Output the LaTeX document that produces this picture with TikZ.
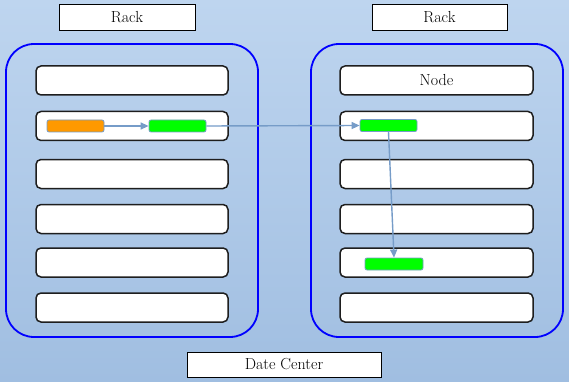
\documentclass[tikz,border=0pt]{standalone}
\usetikzlibrary{arrows.meta}
\definecolor{bgtop}{RGB}{190,213,239}
\definecolor{bgbot}{RGB}{160,190,225}
\definecolor{rackblue}{RGB}{0,0,255}
\definecolor{slotline}{RGB}{30,30,30}
\definecolor{arrowc}{RGB}{118,156,200}
\definecolor{orangec}{RGB}{255,153,0}
\definecolor{greenc}{RGB}{0,255,0}
\begin{document}
\begin{tikzpicture}[x=1pt,y=-1pt,
  labelbox/.style={draw=black,line width=0.9pt,fill=white,inner sep=0pt,font=\fontsize{16}{18}\selectfont},
  rackbox/.style={draw=rackblue,line width=1.8pt,rounded corners=28pt,minimum width=252pt,minimum height=293pt,inner sep=0pt},
  slotbox/.style={draw=slotline,line width=1.5pt,fill=white,rounded corners=5pt,minimum height=29pt,inner sep=0pt,font=\fontsize{16}{18}\selectfont},
  taskbox/.style={draw=arrowc,line width=0.8pt,rounded corners=2pt,minimum width=57pt,minimum height=12pt,inner sep=0pt},
  flow/.style={draw=arrowc,line width=1.4pt,-{Triangle[length=8pt,width=7pt]}}
]
\useasboundingbox (0,0) rectangle (569,382);
\shade[top color=bgtop,bottom color=bgbot] (0,0) rectangle (569,382);

% rack labels
\node[labelbox,minimum width=136pt,minimum height=26pt] (lab1) at (127,17) {Rack};
\node[labelbox,minimum width=135pt,minimum height=26pt] (lab2) at (439.5,17) {Rack};
\node[labelbox,minimum width=194pt,minimum height=25pt] (dc) at (284,364.5) {Date Center};

% racks
\node[rackbox] (rack1) at (132,190.5) {};
\node[rackbox] (rack2) at (437,190.5) {};

% slots left
\node[slotbox,minimum width=192pt] (l1) at (132,80.5) {};
\node[slotbox,minimum width=192pt] (l2) at (132,126) {};
\node[slotbox,minimum width=192pt] (l3) at (132,174) {};
\node[slotbox,minimum width=192pt] (l4) at (132,219) {};
\node[slotbox,minimum width=192pt] (l5) at (132,262.5) {};
\node[slotbox,minimum width=192pt] (l6) at (132,307.5) {};

% slots right
\node[slotbox,minimum width=193pt] (r1) at (436.5,80.5) {Node};
\node[slotbox,minimum width=193pt] (r2) at (436.5,126) {};
\node[slotbox,minimum width=193pt] (r3) at (436.5,174) {};
\node[slotbox,minimum width=193pt] (r4) at (436.5,219) {};
\node[slotbox,minimum width=193pt] (r5) at (436.5,262.5) {};
\node[slotbox,minimum width=193pt] (r6) at (436.5,307.5) {};

% tasks
\node[taskbox,fill=orangec] (o1) at (75.5,126) {};
\node[taskbox,fill=greenc] (g1) at (177.5,126) {};
\node[taskbox,fill=greenc] (g2) at (388.5,125.5) {};
\node[taskbox,fill=greenc,minimum width=58pt] (g3) at (394,264) {};

% arrows
\draw[flow] (o1.east) -- (g1.west);
\draw[flow] (g1.east) -- (g2.west);
\draw[flow] (g2.south) -- (g3.north);
\end{tikzpicture}
\end{document}
